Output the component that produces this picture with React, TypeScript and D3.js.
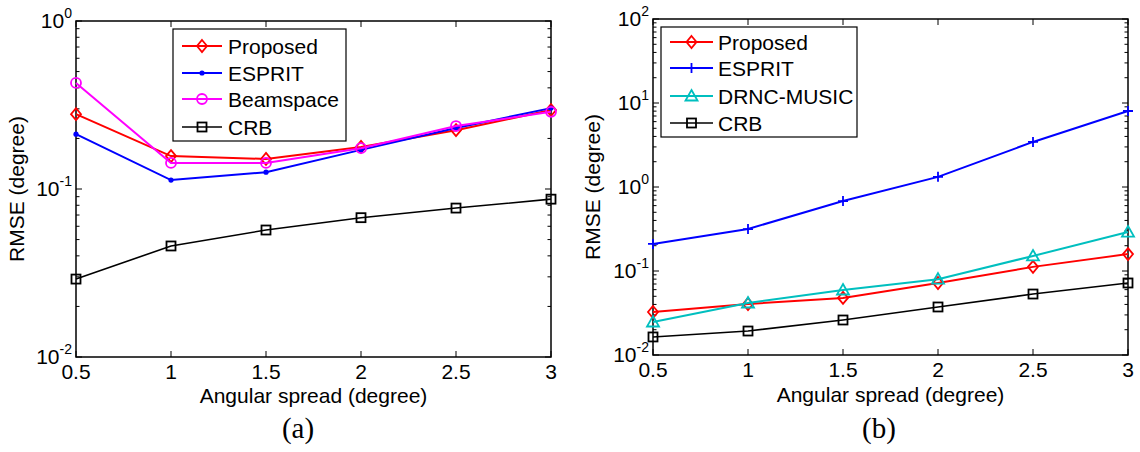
import React from "react";
import * as d3 from "d3";

const xValues = [0.5, 1, 1.5, 2, 2.5, 3];
const xTickLabels = ["0.5", "1", "1.5", "2", "2.5", "3"];

const aProposed = [0.279, 0.157, 0.151, 0.178, 0.224, 0.295];
const aESPRIT = [0.212, 0.113, 0.126, 0.171, 0.231, 0.303];
const aBeamspace = [0.428, 0.143, 0.143, 0.175, 0.237, 0.288];
const aCRB = [0.0291, 0.0458, 0.057, 0.0675, 0.077, 0.087];

const bProposed = [0.0325, 0.0405, 0.0478, 0.072, 0.112, 0.159];
const bESPRIT = [0.21, 0.316, 0.68, 1.32, 3.44, 8.03];
const bDRNC = [0.0247, 0.0416, 0.0594, 0.08, 0.151, 0.291];
const bCRB = [0.0164, 0.0193, 0.0261, 0.0373, 0.0532, 0.072];

const aNames = ["Proposed", "ESPRIT", "Beamspace", "CRB"];
const bNames = ["Proposed", "ESPRIT", "DRNC-MUSIC", "CRB"];

type Series = { name: string; values: number[]; color: string; marker: string; width: number };

const FONT = "'Liberation Sans', Arial, sans-serif";
const FS = 21;

function Marker({ type, x, y, color }: { type: string; x: number; y: number; color: string }) {
  if (type === "diamond")
    return <path d={`M${x},${y - 6}L${x + 5},${y}L${x},${y + 6}L${x - 5},${y}Z`} fill="none" stroke={color} strokeWidth={1.8} />;
  if (type === "dot") return <circle cx={x} cy={y} r={2.6} fill={color} />;
  if (type === "circle") return <circle cx={x} cy={y} r={5} fill="none" stroke={color} strokeWidth={1.8} />;
  if (type === "square") return <rect x={x - 4.5} y={y - 4.5} width={9} height={9} fill="none" stroke={color} strokeWidth={1.8} />;
  if (type === "plus")
    return <path d={`M${x - 5},${y}H${x + 5}M${x},${y - 5}V${y + 5}`} stroke={color} strokeWidth={1.8} />;
  if (type === "triangle")
    return <path d={`M${x},${y - 6}L${x + 6},${y + 4.5}L${x - 6},${y + 4.5}Z`} fill="none" stroke={color} strokeWidth={1.8} />;
  return null;
}

function Panel({ x0, x1, y0, y1, yDomain, series, legend, caption, captionX, ylabelX, xlabelY }: any) {
  const xs = d3.scaleLinear().domain([0.5, 3]).range([x0, x1]);
  const ys = d3.scaleLog().domain(yDomain).range([y1, y0]);
  const decades: number[] = [];
  for (let e = Math.log10(yDomain[0]); e <= Math.log10(yDomain[1]); e++) decades.push(e);
  const minor: number[] = [];
  decades.slice(0, -1).forEach((e) => {
    for (let k = 2; k <= 9; k++) minor.push(k * Math.pow(10, e));
  });
  const line = d3
    .line<number>()
    .x((_, i) => xs(xValues[i]))
    .y((d) => ys(d));
  return (
    <g fontFamily={FONT}>
      {xValues.map((v, i) => (
        <g key={"xt" + i}>
          <line x1={xs(v)} x2={xs(v)} y1={y1} y2={y1 - 6} stroke="#000" strokeWidth={1} />
          <line x1={xs(v)} x2={xs(v)} y1={y0} y2={y0 + 6} stroke="#000" strokeWidth={1} />
          <text x={xs(v)} y={y1 + 22} textAnchor="middle" fontSize={FS} fill="#000">
            {xTickLabels[i]}
          </text>
        </g>
      ))}
      {decades.map((e) => (
        <g key={"yt" + e}>
          <line x1={x0} x2={x0 + 6} y1={ys(Math.pow(10, e))} y2={ys(Math.pow(10, e))} stroke="#000" />
          <line x1={x1} x2={x1 - 6} y1={ys(Math.pow(10, e))} y2={ys(Math.pow(10, e))} stroke="#000" />
          <text x={x0 - 4} y={ys(Math.pow(10, e)) + 7} textAnchor="end" fontSize={FS} fill="#000">
            10
            <tspan dy={-10} fontSize={14}>
              {String(e)}
            </tspan>
          </text>
        </g>
      ))}
      {minor.map((m, i) => (
        <g key={"mt" + i}>
          <line x1={x0} x2={x0 + 3.5} y1={ys(m)} y2={ys(m)} stroke="#000" />
          <line x1={x1} x2={x1 - 3.5} y1={ys(m)} y2={ys(m)} stroke="#000" />
        </g>
      ))}
      <rect x={x0} y={y0} width={x1 - x0} height={y1 - y0} fill="none" stroke="#000" strokeWidth={1.5} />
      {series.map((s: Series) => (
        <g key={s.name}>
          <path d={line(s.values) || ""} fill="none" stroke={s.color} strokeWidth={s.width} />
          {s.values.map((v, i) => (
            <Marker key={i} type={s.marker} x={xs(xValues[i])} y={ys(v)} color={s.color} />
          ))}
        </g>
      ))}
      <rect x={legend.x} y={legend.y} width={legend.w} height={legend.h} fill="#fff" stroke="#000" strokeWidth={1.2} />
      {series.map((s: Series, i: number) => {
        const yy = legend.rows[i];
        return (
          <g key={"lg" + i}>
            <line x1={legend.lx1} x2={legend.lx2} y1={yy} y2={yy} stroke={s.color} strokeWidth={s.width} />
            <Marker type={s.marker} x={(legend.lx1 + legend.lx2) / 2} y={yy} color={s.color} />
            <text x={legend.tx} y={yy + 7.5} fontSize={FS} fill="#000">
              {s.name}
            </text>
          </g>
        );
      })}
      <text x={(x0 + x1) / 2} y={xlabelY} textAnchor="middle" fontSize={FS} fill="#000">
        Angular spread (degree)
      </text>
      <text
        transform={`translate(${ylabelX},${(y0 + y1) / 2}) rotate(-90)`}
        textAnchor="middle"
        fontSize={FS}
        fill="#000"
      >
        RMSE (degree)
      </text>
      <text x={captionX} y={438} textAnchor="middle" fontSize={29} fontFamily="'Liberation Serif', 'Times New Roman', serif" fill="#000">
        {caption}
      </text>
    </g>
  );
}

export default function App() {
  const aSeries: Series[] = [
    { name: aNames[0], values: aProposed, color: "#ff0000", marker: "diamond", width: 2 },
    { name: aNames[1], values: aESPRIT, color: "#0000ff", marker: "dot", width: 2 },
    { name: aNames[2], values: aBeamspace, color: "#ff00ff", marker: "circle", width: 2 },
    { name: aNames[3], values: aCRB, color: "#000000", marker: "square", width: 1.6 },
  ];
  const bSeries: Series[] = [
    { name: bNames[0], values: bProposed, color: "#ff0000", marker: "diamond", width: 2 },
    { name: bNames[1], values: bESPRIT, color: "#0000ff", marker: "plus", width: 2 },
    { name: bNames[2], values: bDRNC, color: "#00bfbf", marker: "triangle", width: 2 },
    { name: bNames[3], values: bCRB, color: "#000000", marker: "square", width: 1.6 },
  ];
  return (
    <svg width={1140} height={452} style={{ position: "absolute", left: 0, top: 0, background: "#fff" }}>
      <rect width={1140} height={452} fill="#fff" />
      <Panel
        x0={76}
        x1={551}
        y0={21}
        y1={357}
        yDomain={[0.01, 1]}
        series={aSeries}
        legend={{ x: 173, y: 29, w: 173, h: 112, rows: [46, 73, 99, 127], lx1: 182, lx2: 222, tx: 228 }}
        caption="(a)"
        captionX={298}
        ylabelX={24}
        xlabelY={403}
      />
      <Panel
        x0={653}
        x1={1128}
        y0={19}
        y1={355}
        yDomain={[0.01, 100]}
        series={bSeries}
        legend={{ x: 661, y: 27, w: 196, h: 110, rows: [42, 68, 96, 123], lx1: 670, lx2: 713, tx: 718 }}
        caption="(b)"
        captionX={879}
        ylabelX={600}
        xlabelY={402}
      />
    </svg>
  );
}
